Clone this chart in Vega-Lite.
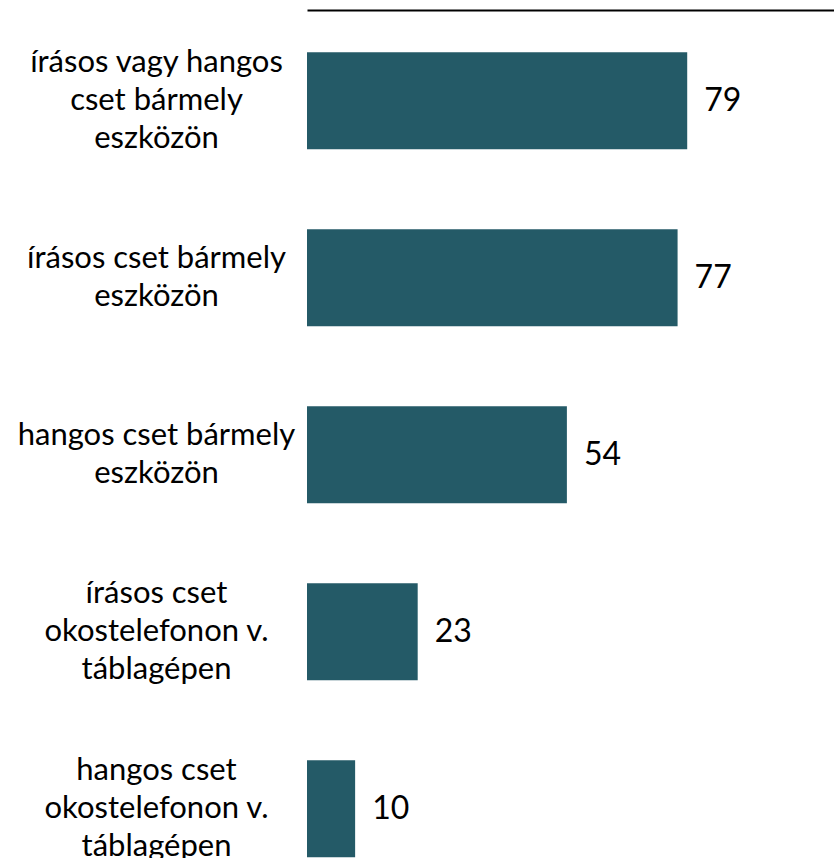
{
  "$schema": "https://vega.github.io/schema/vega-lite/v6.json",
  "autosize": {"type": "none"},
  "padding": {"left": 307, "top": 10, "right": 0, "bottom": 0},
  "width": 527,
  "height": 848,
  "background": "white",
  "config": {"view": {"stroke": null}, "font": "Lato"},
  "data": {
    "values": [
      {"category": "írásos vagy hangos|cset bármely|eszközön", "value": 79},
      {"category": "írásos cset bármely|eszközön", "value": 77},
      {"category": "hangos cset bármely|eszközön", "value": 54},
      {"category": "írásos cset|okostelefonon v.|táblagépen", "value": 23},
      {"category": "hangos cset|okostelefonon v.|táblagépen", "value": 10}
    ]
  },
  "encoding": {
    "y": {
      "field": "category",
      "type": "nominal",
      "sort": null,
      "scale": {"paddingInner": 0.452, "paddingOuter": 0.1215, "align": 0.98},
      "axis": {
        "title": null,
        "domain": false,
        "ticks": false,
        "labelExpr": "split(datum.label, '|')",
        "labelAlign": "center",
        "labelBaseline": "middle",
        "labelPadding": 151,
        "labelFontSize": 31,
        "labelLineHeight": 38,
        "labelColor": "#000000",
        "labelLimit": 400,
        "labelFont": "Lato",
        "labelOffset": {
          "condition": {"test": "length(split(datum.value, '|')) == 2", "value": -19},
          "value": -38
        }
      }
    },
    "x": {
      "field": "value",
      "type": "quantitative",
      "scale": {"domain": [0, 109.5], "nice": false},
      "axis": {
        "orient": "top",
        "title": null,
        "labels": false,
        "ticks": false,
        "grid": false,
        "domainColor": "#000000",
        "domainWidth": 2
      }
    }
  },
  "layer": [
    {"mark": {"type": "bar", "color": "#245a67"}},
    {
      "mark": {"type": "text", "align": "left", "baseline": "middle", "dx": 17, "fontSize": 32, "color": "#000000", "font": "Lato"},
      "encoding": {"text": {"field": "value", "type": "quantitative"}}
    }
  ]
}
